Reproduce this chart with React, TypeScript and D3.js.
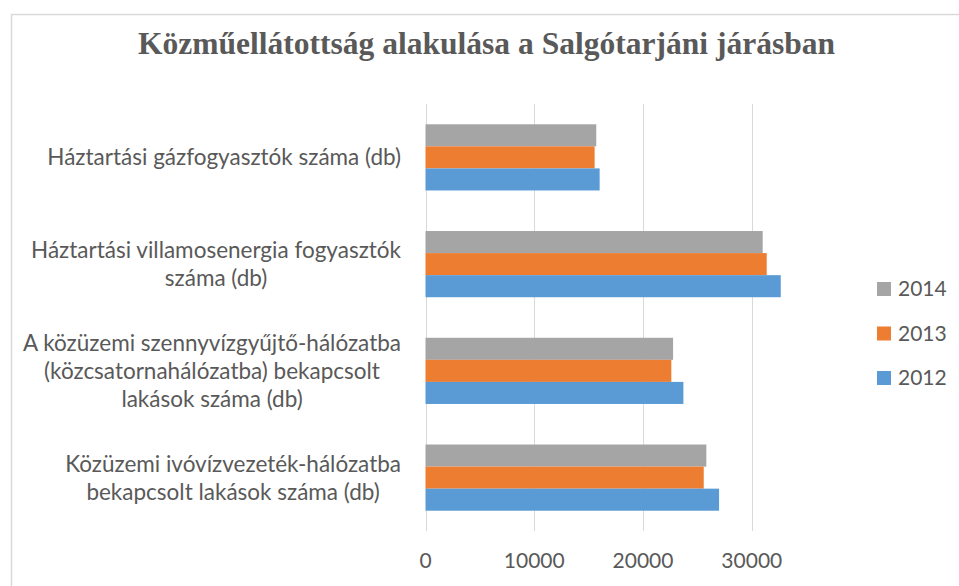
import { useEffect, useRef } from "react";
import * as d3 from "d3";

const categories = [
  "Háztartási gázfogyasztók száma (db)",
  "Háztartási villamosenergia fogyasztók száma (db)",
  "A közüzemi szennyvízgyűjtő-hálózatba (közcsatornahálózatba) bekapcsolt lakások száma (db)",
  "Közüzemi ivóvízvezeték-hálózatba bekapcsolt lakások száma (db)",
];

// label line breaks as in the picture
const categoryLines = [
  ["Háztartási gázfogyasztók száma (db)"],
  ["Háztartási villamosenergia fogyasztók", "száma (db)"],
  ["A közüzemi szennyvízgyűjtő-hálózatba", "(közcsatornahálózatba) bekapcsolt", "lakások száma (db)"],
  ["Közüzemi ivóvízvezeték-hálózatba", "bekapcsolt lakások száma (db)"],
];

const seriesNames = ["2014", "2013", "2012"];
const values2014 = [15700, 31000, 22760, 25820];
const values2013 = [15550, 31370, 22600, 25580];
const values2012 = [16010, 32660, 23710, 26990];
const xTicks = [0, 10000, 20000, 30000];

const COLORS: Record<string, string> = { "2014": "#A5A5A5", "2013": "#ED7D31", "2012": "#5B9BD5" };
const TEXT = "#595959";
const LABEL_FONT = "Lato, 'Open Sans', sans-serif";

export default function App() {
  const ref = useRef<HTMLDivElement>(null);

  useEffect(() => {
    if (!ref.current) return;
    const container = ref.current;
    d3.select(container).select("svg").remove();

    const width = 959;
    const height = 586;
    const marginTop = 104;
    const marginBottom = 55;
    const marginLeft = 425.5;

    const rows = categories.map((c, i) => ({
      category: c,
      lines: categoryLines[i],
      "2014": values2014[i],
      "2013": values2013[i],
      "2012": values2012[i],
    }));

    const x = d3.scaleLinear()
      .domain([0, 35000])
      .range([marginLeft, marginLeft + 3.5 * 108.77]);

    const y = d3.scaleBand()
      .domain(categories)
      .range([marginTop, height - marginBottom])
      .paddingInner(0.38)
      .paddingOuter(0.19);

    const ySub = d3.scaleBand()
      .domain(seriesNames)
      .range([0, y.bandwidth()]);

    const svg = d3.create("svg")
      .attr("width", width)
      .attr("height", height)
      .attr("viewBox", [0, 0, width, height])
      .attr("style", "display:block;background:#fff;");

    // chart frame
    svg.append("rect")
      .attr("x", 11.5)
      .attr("y", 14.5)
      .attr("width", width + 20)
      .attr("height", height + 20)
      .attr("fill", "#fff")
      .attr("stroke", "#D9D9D9")
      .attr("stroke-width", 1.5);

    svg.append("text")
      .attr("x", 486.5)
      .attr("y", 54)
      .attr("text-anchor", "middle")
      .attr("font-family", "'Liberation Serif', 'Times New Roman', serif")
      .attr("font-weight", "bold")
      .attr("font-size", 31)
      .attr("fill", TEXT)
      .attr("textLength", 697)
      .attr("lengthAdjust", "spacingAndGlyphs")
      .text("Közműellátottság alakulása a Salgótarjáni járásban");

    // gridlines
    svg.append("g")
      .attr("stroke", "#D9D9D9")
      .attr("stroke-width", 1)
      .selectAll("line")
      .data(xTicks)
      .join("line")
        .attr("x1", d => Math.round(x(d)) + 0.5)
        .attr("x2", d => Math.round(x(d)) + 0.5)
        .attr("y1", marginTop)
        .attr("y2", height - marginBottom);

    // x tick labels
    svg.append("g")
      .attr("font-family", LABEL_FONT)
      .attr("font-size", 21)
      .attr("fill", TEXT)
      .attr("text-anchor", "middle")
      .selectAll("text")
      .data(xTicks)
      .join("text")
        .attr("x", d => x(d))
        .attr("y", 568)
        .text(d => String(d));

    // bars
    svg.append("g")
      .selectAll("g")
      .data(rows)
      .join("g")
        .attr("transform", d => `translate(0,${y(d.category)})`)
      .selectAll("rect")
      .data(d => seriesNames.map(s => ({ key: s, value: (d as any)[s] as number })))
      .join("rect")
        .attr("x", x(0))
        .attr("y", d => ySub(d.key) ?? 0)
        .attr("width", d => x(d.value) - x(0))
        .attr("height", ySub.bandwidth())
        .attr("fill", d => COLORS[d.key]);

    // category labels: block right-aligned, lines centered within block
    const lineHeight = 28;
    const labelRight = 401;
    const labels = svg.append("g")
      .attr("font-family", LABEL_FONT)
      .attr("font-size", 22.5)
      .attr("fill", TEXT)
      .attr("text-anchor", "middle");

    container.append(svg.node()!);

    rows.forEach(r => {
      const cy = (y(r.category) ?? 0) + y.bandwidth() / 2;
      const n = r.lines.length;
      const g = labels.append("g");
      const texts = r.lines.map((line, i) =>
        g.append("text")
          .attr("y", cy + (i - (n - 1) / 2) * lineHeight)
          .attr("dy", "0.35em")
          .text(line));
      const maxW = d3.max(texts, t => (t.node() as SVGTextElement).getComputedTextLength()) ?? 0;
      texts.forEach(t => t.attr("x", labelRight - maxW / 2));
    });

    // legend
    const legend = svg.append("g")
      .selectAll("g")
      .data(seriesNames)
      .join("g")
        .attr("transform", (_, i) => `translate(877,${289 + i * 44.5})`);

    legend.append("rect")
      .attr("x", 0)
      .attr("y", -7)
      .attr("width", 14)
      .attr("height", 14)
      .attr("fill", d => COLORS[d]);

    legend.append("text")
      .attr("x", 21)
      .attr("dy", "0.35em")
      .attr("font-family", LABEL_FONT)
      .attr("font-size", 21)
      .attr("fill", TEXT)
      .text(d => d);
  }, []);

  return <div ref={ref} style={{ position: "absolute", left: 0, top: 0 }} />;
}
